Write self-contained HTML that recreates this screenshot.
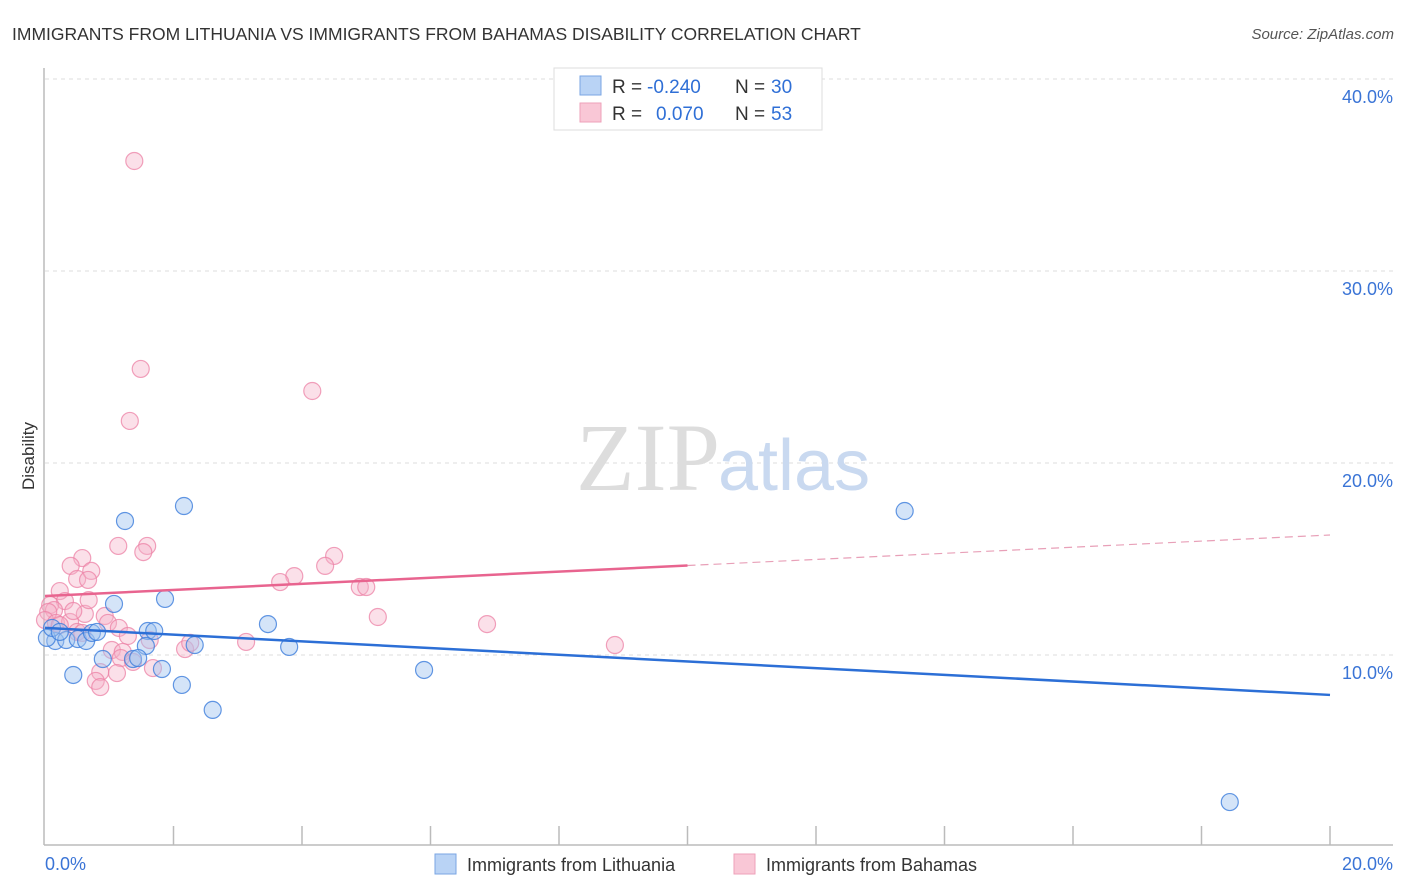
<!DOCTYPE html>
<html><head><meta charset="utf-8"><style>
body{margin:0;background:#fff;font-family:"Liberation Sans",sans-serif;}
#wrap{position:relative;width:1406px;height:892px;overflow:hidden;}
</style></head><body>
<div id="wrap">
<svg id="chart" width="1406" height="892">
<text x="12" y="40" font-size="17.5" fill="#333">IMMIGRANTS FROM LITHUANIA VS IMMIGRANTS FROM BAHAMAS DISABILITY CORRELATION CHART</text>
<text x="1394" y="39" font-size="15" fill="#555" font-style="italic" text-anchor="end">Source: ZipAtlas.com</text>
<text x="34" y="456" font-size="17" fill="#333" text-anchor="middle" transform="rotate(-90 34 456)">Disability</text>
<g id="grid"></g>
<g id="axes"></g>
<text x="720" y="490" font-size="96" fill="#ddd" font-family="Liberation Serif,serif" text-anchor="end">ZIP</text>
<text x="718" y="490" font-size="72" fill="#c9d9f0">atlas</text>
<g id="marks"></g>
<g id="trends"></g>
<g>
<rect x="554" y="68" width="268" height="62" fill="#fff" stroke="#ddd"/>
<rect x="580" y="76" width="21" height="19" fill="#b9d3f5" stroke="#7aa6e3"/>
<rect x="580" y="103" width="21" height="19" fill="#f9c7d6" stroke="#eea1b9"/>
<text y="93" font-size="19"><tspan x="612" fill="#333">R = </tspan><tspan x="647" fill="#2f6fd6">-0.240</tspan><tspan x="735" fill="#333">N = </tspan><tspan x="771" fill="#2f6fd6">30</tspan></text>
<text y="120" font-size="19"><tspan x="612" fill="#333">R = </tspan><tspan x="656" fill="#2f6fd6">0.070</tspan><tspan x="735" fill="#333">N = </tspan><tspan x="771" fill="#2f6fd6">53</tspan></text>
</g>
<g>
<rect x="435" y="854" width="21" height="20" fill="#b9d3f5" stroke="#7aa6e3"/>
<text x="467" y="871" font-size="18" fill="#333">Immigrants from Lithuania</text>
<rect x="734" y="854" width="21" height="20" fill="#f9c7d6" stroke="#eea1b9"/>
<text x="766" y="871" font-size="18" fill="#333">Immigrants from Bahamas</text>
</g>
</svg>
</div>
<script>
const yTicks=[10,20,30,40];
const yTickLabels=["10.0%","20.0%","30.0%","40.0%"];
const xTickLabels=["0.0%","20.0%"];
const lithX=[1.245,2.163,13.38,1.868,1.074,3.47,1.60,1.70,0.16,0.03,0.33,0.51,0.64,0.73,0.81,1.57,2.33,3.80,0.90,1.37,1.45,1.82,0.44,2.13,5.90,2.61,18.44,0.11,0.23];
const lithY=[16.98,17.76,17.50,12.92,12.66,11.61,11.25,11.25,10.73,10.89,10.78,10.83,10.73,11.15,11.20,10.47,10.52,10.42,9.79,9.79,9.84,9.27,8.96,8.44,9.22,7.14,2.34,11.41,11.2];
const bahX=[1.39,1.49,1.32,4.16,0.58,1.14,1.59,1.53,4.50,4.36,0.40,0.50,0.72,0.67,3.88,3.66,4.90,5.00,0.23,0.31,0.08,0.14,0.05,0.0,0.17,0.39,0.62,0.93,0.68,0.98,5.18,6.88,8.87,0.50,0.58,1.15,1.29,1.63,2.18,2.26,3.13,1.04,1.21,1.18,1.37,1.68,0.86,1.12,0.79,0.86,0.23,0.44];
const bahY=[35.73,24.90,22.19,23.75,15.05,15.68,15.68,15.36,15.16,14.64,14.64,13.96,14.38,13.91,14.11,13.80,13.54,13.54,13.33,12.81,12.60,12.34,12.24,11.82,11.67,11.72,12.14,12.03,12.86,11.67,11.98,11.61,10.52,11.20,11.15,11.41,10.99,10.78,10.31,10.63,10.68,10.26,10.16,9.84,9.64,9.32,9.11,9.06,8.65,8.33,11.56,12.29];
const lithTrend=[11.41,7.92];
const bahTrend=[13.07,16.25];
const bahSolidEnd=10;

const NS="http://www.w3.org/2000/svg";
const X0=45,X1=1330,Y10=655,PPU=19.2;
function sx(v){return X0+(v/20)*(X1-X0);}
function sy(v){return Y10-(v-10)*PPU;}
function mk(tag,attrs,parent){const e=document.createElementNS(NS,tag);for(const k in attrs)e.setAttribute(k,attrs[k]);parent.appendChild(e);return e;}
const grid=document.getElementById('grid'),axes=document.getElementById('axes');
yTicks.forEach((t,i)=>{
 const l=mk('line',{x1:45,x2:1393,y1:sy(t),y2:sy(t),stroke:'#ddd','stroke-dasharray':'4,4'},grid);
 
 
 const tx=mk('text',{x:1393,y:sy(t)+24,'font-size':18,fill:'#3a74d6','text-anchor':'end'},axes);
 tx.textContent=yTickLabels[i];
 
 
});
mk('line',{x1:44,x2:44,y1:68,y2:845,stroke:'#bbb','stroke-width':1.5},axes);
mk('line',{x1:44,x2:1393,y1:845,y2:845,stroke:'#bbb','stroke-width':1.5},axes);
for(let i=1;i<=10;i++){
 const v=i*2;
 const t=mk('line',{x1:sx(v),x2:sx(v),y1:826,y2:845,stroke:'#bbb','stroke-width':1.5},axes);
 
 
}
const xl0=mk('text',{x:45,y:870,'font-size':18,fill:'#3a74d6'},axes);xl0.textContent=xTickLabels[0];


const xl1=mk('text',{x:1393,y:870,'font-size':18,fill:'#3a74d6','text-anchor':'end'},axes);xl1.textContent=xTickLabels[1];



const marks=document.getElementById('marks');
bahX.forEach((x,i)=>{
 const c=mk('circle',{cx:sx(x),cy:sy(bahY[i]),r:8.5,fill:'rgba(246,178,200,0.4)',stroke:'rgba(236,130,165,0.75)','stroke-width':1.2},marks);
 
 
});
lithX.forEach((x,i)=>{
 const c=mk('circle',{cx:sx(x),cy:sy(lithY[i]),r:8.5,fill:'rgba(160,195,240,0.45)',stroke:'rgba(60,125,220,0.8)','stroke-width':1.2},marks);
 
 
});
const tr=document.getElementById('trends');
const bl=mk('line',{x1:sx(0),y1:sy(lithTrend[0]),x2:sx(20),y2:sy(lithTrend[1]),stroke:'#2c6fd6','stroke-width':2.5},tr);


const midY=bahTrend[0]+(bahTrend[1]-bahTrend[0])*bahSolidEnd/20;
const pl=mk('line',{x1:sx(0),y1:sy(bahTrend[0]),x2:sx(bahSolidEnd),y2:sy(midY),stroke:'#e8648f','stroke-width':2.5},tr);


const pd=mk('line',{x1:sx(bahSolidEnd),y1:sy(midY),x2:sx(20),y2:sy(bahTrend[1]),stroke:'#e8a0b8','stroke-width':1.2,'stroke-dasharray':'8,5'},tr);


</script>
</body></html>
